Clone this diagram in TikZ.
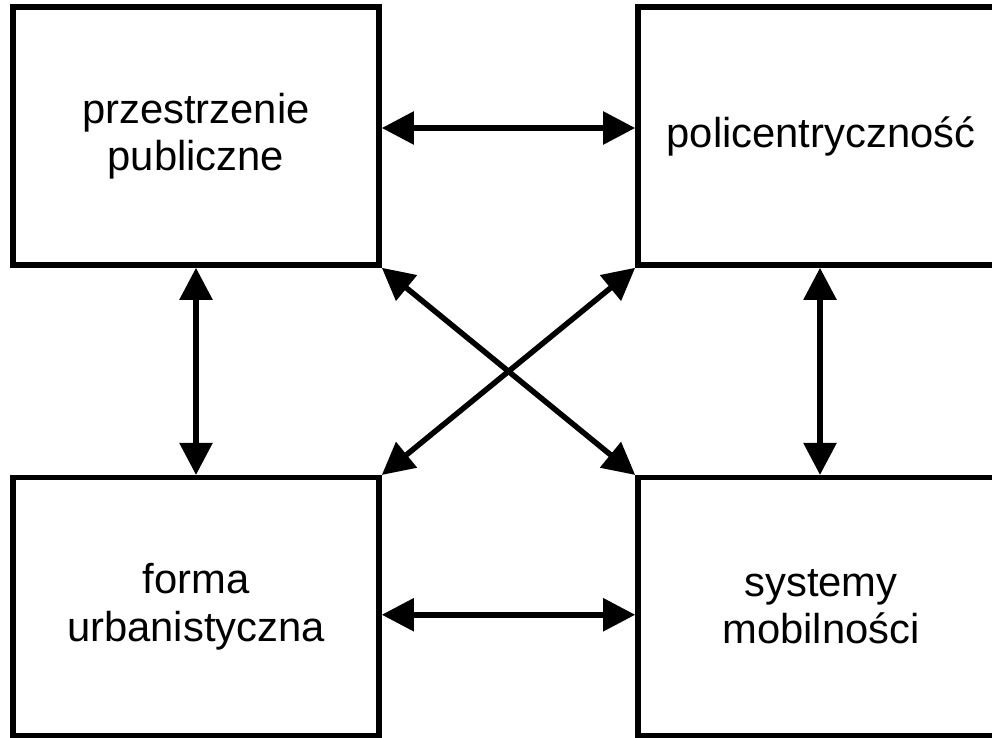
\documentclass[tikz,border=0pt]{standalone}
\usepackage{fontspec}
\setmainfont{Liberation Sans}
\usetikzlibrary{arrows.meta}

\tikzset{
  box/.style={draw,line width=0.1375cm,minimum width=9.15cm,minimum height=6.45cm,
    align=center,font=\fontsize{29.7}{33.5}\selectfont},
  link/.style={line width=0.1375cm,{Triangle[length=0.8cm,width=0.8cm]}-{Triangle[length=0.8cm,width=0.8cm]}}
}

\begin{document}
\begin{tikzpicture}[x=0.025cm,y=-0.025cm]
\useasboundingbox (0,0) rectangle (992,737);
\clip (0,0) rectangle (992,737);
\node[box] (pp) at (196,136) {przestrzenie\\publiczne};
\node[box] (pc) at (821,136) {policentryczność};
\node[box] (fu) at (196,606.75) {forma\\urbanistyczna};
\node[box] (sm) at (821,606.75) {systemy\\mobilności};
\draw[link] ([yshift=0.2cm]pp.east) -- ([yshift=0.2cm]pc.west);
\draw[link] ([yshift=-0.2cm]fu.east) -- ([yshift=-0.2cm]sm.west);
\draw[link] (pp.south) -- (fu.north);
\draw[link] ([xshift=-0.025cm]pc.south) -- ([xshift=-0.025cm]sm.north);
\draw[link] (pp.south east) -- (sm.north west);
\draw[link] (pc.south west) -- (fu.north east);
\end{tikzpicture}
\end{document}
